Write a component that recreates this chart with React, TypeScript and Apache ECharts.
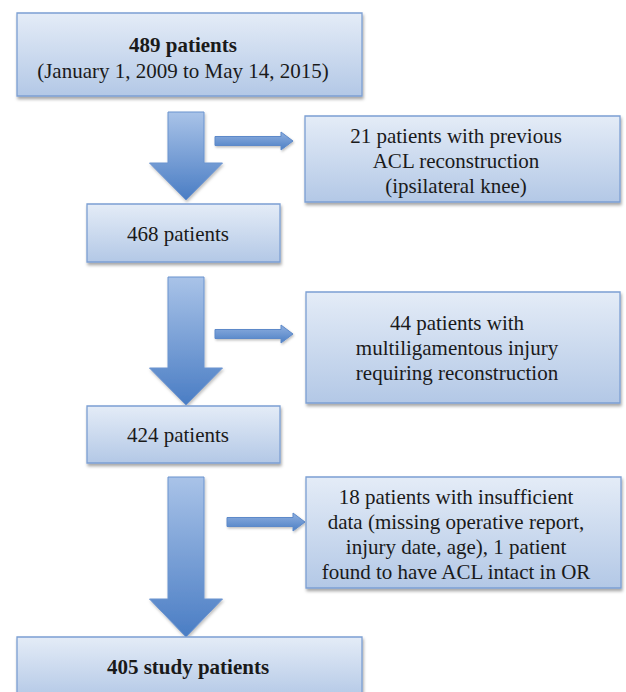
import React, { useEffect, useRef } from "react";
import * as echarts from "echarts";

// ---- content ----
const mainSteps = ["489 patients", "468 patients", "424 patients", "405 study patients"];
const mainBold = [true, false, false, true];
const mainSubtitles = ["(January 1, 2009 to May 14, 2015)", "", "", ""];
const exclusionLines1 = ["21 patients with previous", "ACL reconstruction", "(ipsilateral knee)"];
const exclusionLines2 = ["44 patients with", "multiligamentous injury", "requiring reconstruction"];
const exclusionLines3 = [
  "18 patients with insufficient",
  "data (missing operative report,",
  "injury date, age), 1 patient",
  "found to have ACL intact in OR",
];
const exclusions = [exclusionLines1, exclusionLines2, exclusionLines3];

// ---- layout (pixels) ----
const mainBoxLayout = [
  { x: 17, y: 13, w: 345, h: 83, tx: 183, ty: [45, 71] },
  { x: 87, y: 204, w: 193, h: 58, tx: 178, ty: [234] },
  { x: 87, y: 406, w: 193, h: 57, tx: 178, ty: [435] },
  { x: 17, y: 637, w: 345, h: 62, tx: 188, ty: [667] },
];
const sideBoxLayout = [
  { x: 305, y: 116, w: 315, h: 86, tx: 456, ty: 161 },
  { x: 306, y: 292, w: 314, h: 111, tx: 457, ty: 348 },
  { x: 306, y: 477, w: 315, h: 111, tx: 456, ty: 534 },
];
const bigArrowLayout = [
  { top: 112, headTop: 163, tip: 200 },
  { top: 277, headTop: 368, tip: 405 },
  { top: 477, headTop: 599, tip: 637 },
];
const smallArrowLayout = [
  { x1: 215, x2: 293, y: 141 },
  { x1: 215, x2: 293, y: 334 },
  { x1: 227, x2: 305, y: 522 },
];
const ARROW_CX = 186;
const SHAFT_HALF = 18;
const HEAD_HALF = 36.5;

const FONT_FAMILY = "Liberation Serif";
const FONT_SIZE = 21;

function boxFill() {
  return new echarts.graphic.LinearGradient(0, 0, 0, 1, [
    { offset: 0, color: "#e4ecf7" },
    { offset: 1, color: "#b3c8e6" },
  ]);
}

function box(b: { x: number; y: number; w: number; h: number }) {
  return {
    type: "rect",
    shape: { x: b.x, y: b.y, width: b.w, height: b.h },
    style: {
      fill: boxFill(),
      stroke: "#7c9fd3",
      lineWidth: 1.3,
      shadowBlur: 3,
      shadowOffsetX: 1,
      shadowOffsetY: 2.5,
      shadowColor: "rgba(0,0,0,0.35)",
    },
  };
}

function textEl(x: number, y: number, text: string, bold: boolean) {
  return {
    type: "text",
    x,
    y,
    style: {
      text,
      fontFamily: FONT_FAMILY,
      fontSize: FONT_SIZE,
      fontWeight: bold ? "bold" : "normal",
      lineHeight: 25,
      fill: "#1a1a1a",
      align: "center",
      verticalAlign: "middle",
    },
  };
}

export default function App() {
  const ref = useRef<HTMLDivElement>(null);
  useEffect(() => {
    document.body.style.margin = "0";
    if (!ref.current) return;
    const chart = echarts.init(ref.current, undefined, { renderer: "svg" });
    const elements: any[] = [];

    // big down arrows
    bigArrowLayout.forEach((a) => {
      elements.push({
        type: "polygon",
        shape: {
          points: [
            [ARROW_CX - SHAFT_HALF, a.top],
            [ARROW_CX + SHAFT_HALF, a.top],
            [ARROW_CX + SHAFT_HALF, a.headTop],
            [ARROW_CX + HEAD_HALF, a.headTop],
            [ARROW_CX, a.tip],
            [ARROW_CX - HEAD_HALF, a.headTop],
            [ARROW_CX - SHAFT_HALF, a.headTop],
          ],
        },
        style: {
          fill: new echarts.graphic.LinearGradient(0, 0, 0, 1, [
            { offset: 0, color: "#a9c3e8" },
            { offset: 1, color: "#4a7dc4" },
          ]),
          stroke: "#6b93cf",
          lineWidth: 1,
          shadowBlur: 3,
          shadowOffsetX: 1,
          shadowOffsetY: 2,
          shadowColor: "rgba(0,0,0,0.25)",
        },
      });
    });

    // small right arrows
    smallArrowLayout.forEach((a) => {
      const headLen = 12;
      elements.push({
        type: "polygon",
        shape: {
          points: [
            [a.x1, a.y - 4.5],
            [a.x2 - headLen, a.y - 4.5],
            [a.x2 - headLen, a.y - 9],
            [a.x2, a.y],
            [a.x2 - headLen, a.y + 9],
            [a.x2 - headLen, a.y + 4.5],
            [a.x1, a.y + 4.5],
          ],
        },
        style: {
          fill: new echarts.graphic.LinearGradient(0, 0, 0, 1, [
            { offset: 0, color: "#8fb0e0" },
            { offset: 1, color: "#4d7fc4" },
          ]),
          stroke: "#5d89c9",
          lineWidth: 1,
          shadowBlur: 2,
          shadowOffsetX: 1,
          shadowOffsetY: 1.5,
          shadowColor: "rgba(0,0,0,0.25)",
        },
      });
    });

    // main boxes
    mainSteps.forEach((label, i) => {
      const b = mainBoxLayout[i];
      elements.push(box(b));
      elements.push(textEl(b.tx, b.ty[0], label, mainBold[i]));
      if (mainSubtitles[i]) {
        elements.push(textEl(b.tx, b.ty[1], mainSubtitles[i], false));
      }
    });

    // exclusion boxes
    exclusions.forEach((lines, i) => {
      const b = sideBoxLayout[i];
      elements.push(box(b));
      elements.push(textEl(b.tx, b.ty, lines.join("\n"), false));
    });

    chart.setOption({
      animation: false,
      backgroundColor: "#ffffff",
      graphic: { elements },
    });
    return () => chart.dispose();
  }, []);
  return <div ref={ref} style={{ width: 626, height: 692 }} />;
}
